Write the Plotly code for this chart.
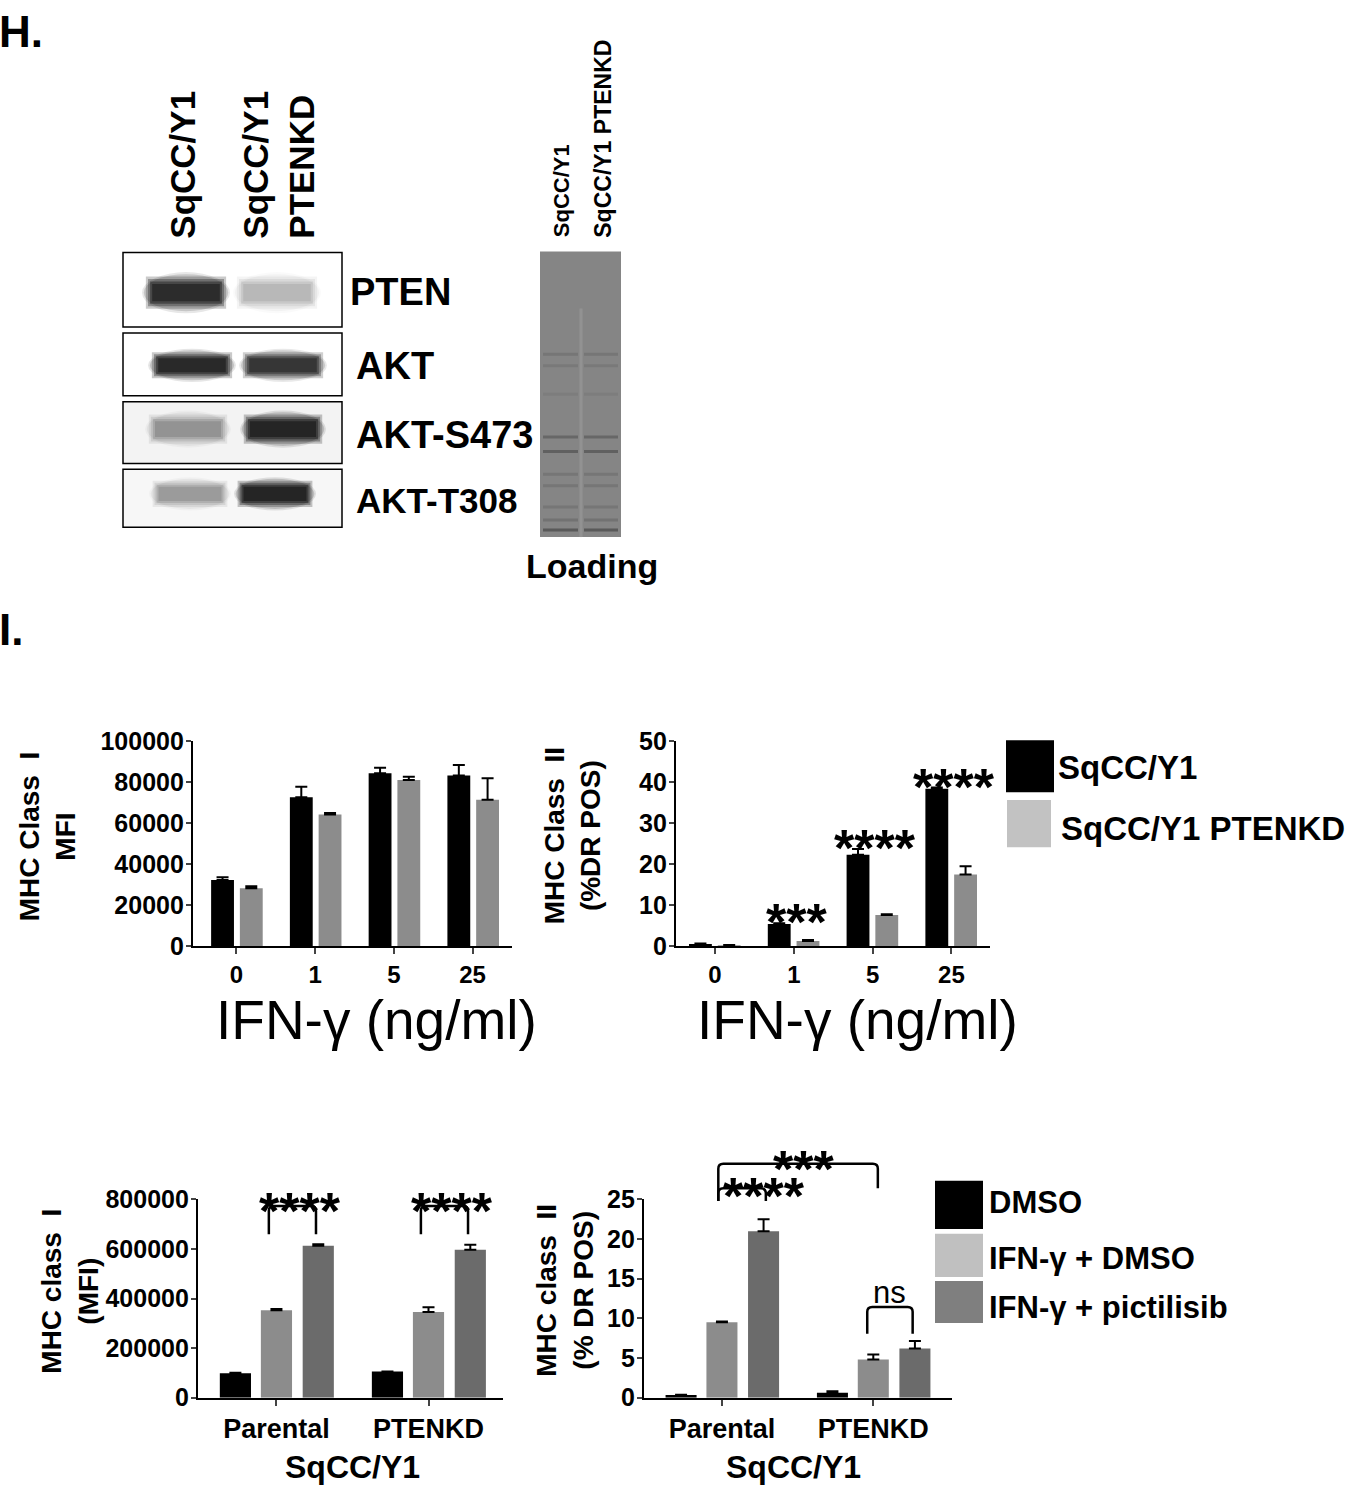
import plotly.graph_objects as go

W, H = 1348, 1500
FONT = "Liberation Sans, Arial, sans-serif"

# ---- data ----
conc_labels = ["0", "1", "5", "25"]
mhc1_sq = [32300, 72700, 84300, 83300]
mhc1_sq_err = [1300, 5100, 2700, 5100]
mhc1_kd = [28300, 64300, 81100, 71400]
mhc1_kd_err = [1000, 700, 1600, 10500]

mhc2_sq = [0.55, 5.4, 22.3, 38.4]
mhc2_sq_err = [0.1, 0.2, 1.4, 0.3]
mhc2_kd = [0.25, 1.3, 7.6, 17.5]
mhc2_kd_err = [0.05, 0.2, 0.2, 2.0]

cell_labels = ["Parental", "PTENKD"]
mhc1_dmso = [98900, 105400]
mhc1_dmso_err = [2000, 0]
mhc1_ifn = [353200, 345300]
mhc1_ifn_err = [5000, 19800]
mhc1_pict = [612900, 597000]
mhc1_pict_err = [6500, 19800]

mhc2_dmso = [0.33, 0.62]
mhc2_dmso_err = [0.03, 0.2]
mhc2_ifn = [9.5, 4.83]
mhc2_ifn_err = [0.1, 0.62]
mhc2_pict = [21.0, 6.2]
mhc2_pict_err = [1.5, 0.95]

# western blot band intensities (lane 1 = SqCC/Y1, lane 2 = PTENKD)
blot_rows = ["PTEN", "AKT", "AKT-S473", "AKT-T308"]
pten_bands = [0.95, 0.2]
akt_bands = [0.97, 0.85]
s473_bands = [0.3, 1.0]
t308_bands = [0.28, 1.0]
loading_band_pos = [0.36, 0.40, 0.50, 0.65, 0.70, 0.78, 0.82, 0.895, 0.94, 0.975]
loading_band_str = [0.2, 0.15, 0.1, 0.4, 0.5, 0.2, 0.2, 0.2, 0.25, 0.6]


def fx(p):
    return p / W


def fy(p):
    return 1 - p / H


fig = go.Figure()

BLACK, GREY, DARK = "#000000", "#8c8c8c", "#6b6b6b"


def err(a):
    return dict(type="data", array=a, arrayminus=[0] * len(a), symmetric=False,
                color="black", thickness=2, width=6)


def add_bar(ax, vals, errs, color, off, width):
    xs = list(range(len(vals)))
    fig.add_trace(go.Bar(x=xs, y=vals, error_y=err(errs), marker=dict(color=color, line=dict(width=0)),
                         width=width, offset=off, xaxis="x" + ax, yaxis="y" + ax, showlegend=False))


# chart 1 & 2 : two bars per group
add_bar("", mhc1_sq, mhc1_sq_err, BLACK, -0.32, 0.29)
add_bar("", mhc1_kd, mhc1_kd_err, GREY, 0.045, 0.29)
add_bar("2", mhc2_sq, mhc2_sq_err, BLACK, -0.33, 0.29)
add_bar("2", mhc2_kd, mhc2_kd_err, GREY, 0.035, 0.29)
# chart 3 & 4 : three bars per group
bw = 0.205
for ax in ["3", "4"]:
    sets = [(mhc1_dmso, mhc1_dmso_err), (mhc1_ifn, mhc1_ifn_err), (mhc1_pict, mhc1_pict_err)] if ax == "3" else \
        [(mhc2_dmso, mhc2_dmso_err), (mhc2_ifn, mhc2_ifn_err), (mhc2_pict, mhc2_pict_err)]
    for (v, e), c, ctr in zip(sets, [BLACK, GREY, DARK], [-0.27, 0.0, 0.275]):
        add_bar(ax, v, e, c, ctr - bw / 2, bw)


def xax(px0, px1, rng, labels, anchor, size=24):
    return dict(domain=[fx(px0), fx(px1)], range=rng, anchor=anchor, tickmode="array",
                tickvals=list(range(len(labels))), ticktext=labels, ticks="outside", ticklen=6,
                tickwidth=2, showline=True, linewidth=2.2, linecolor="black", showgrid=False,
                zeroline=False, tickfont=dict(family=FONT, size=size, color="black", weight="bold"),
                fixedrange=True)


def yax(py0, py1, rng, dtick, anchor, size=25):
    return dict(domain=[fy(py1), fy(py0)], range=rng, anchor=anchor, dtick=dtick, tickformat="d",
                ticks="outside", ticklen=5, tickwidth=2, showline=True, linewidth=2.2,
                linecolor="black", showgrid=False, zeroline=False, ticklabelstandoff=-3,
                tickfont=dict(family=FONT, size=size, color="black", weight="bold"), fixedrange=True)


fig.update_layout(
    width=W, height=H, margin=dict(l=0, r=0, t=0, b=0),
    paper_bgcolor="white", plot_bgcolor="white", barmode="overlay", showlegend=False,
    xaxis=xax(193, 512, [-0.55, 3.5], conc_labels, "y"),
    yaxis=yax(741, 950, [0, 100000], 20000, "x"),
    xaxis2=xax(676, 990, [-0.495, 3.49], conc_labels, "y2"),
    yaxis2=yax(741, 950, [0, 50], 10, "x2"),
    xaxis3=xax(198, 503, [-0.516, 1.49], cell_labels, "y3", size=27),
    yaxis3=yax(1208, 1410, [0, 800000], 200000, "x3"),
    xaxis4=xax(644, 952, [-0.515, 1.52], cell_labels, "y4", size=27),
    yaxis4=yax(1208, 1410, [0, 25], 5, "x4"),
)

ann = []
shapes = []


def text(t, x, y, size, bold=True, xanchor="center", yanchor="middle", angle=0, align="center"):
    ann.append(dict(text=t, x=fx(x), y=fy(y), xref="paper", yref="paper", showarrow=False,
                    xanchor=xanchor, yanchor=yanchor, textangle=angle, align=align, borderpad=0,
                    font=dict(family=FONT, size=size, color="black", weight="bold" if bold else "normal")))


# ---- panel letters ----
text("H.", -2, 18, 44, xanchor="left")
text("I.", -2, 627, 44, xanchor="left")

# ---- western blot ----
text("SqCC/Y1", 183, 230, 35, yanchor="bottom", angle=-90)
text("SqCC/Y1<br>PTENKD", 279, 230, 35, yanchor="bottom", angle=-90, align="left")
boxes = [(243, 319), (325, 389), (395, 458), (464, 523)]
box_bg = ["white", "white", "#f3f3f3", "#f7f7f7"]
lane_x = [[186, 277], [192, 283], [188, 283], [190, 275]]
band_y = [284, 358, 423, 489]
band_wh = [(88, 42), (88, 34), (86, 38), (82, 34)]
label_x = [349, 355, 355, 355]
label_size = [38, 38, 38, 35]
for i, (row, inten) in enumerate(zip(blot_rows, [pten_bands, akt_bands, s473_bands, t308_bands])):
    y0, y1 = boxes[i]
    shapes.append(dict(type="rect", xref="paper", yref="paper", x0=fx(123), x1=fx(342), y0=fy(y1), y1=fy(y0),
                       fillcolor=box_bg[i], line=dict(color="black", width=1.5), layer="below"))
    w, h = band_wh[i]
    for lane, val in enumerate(inten):
        cx, cy = lane_x[i][lane], band_y[i]
        layers = [("circle", 1.0, 0.1), ("circle", 0.9, 0.15), ("rect", 0.78, 0.22),
                  ("rect", 0.66, 0.3), ("rect", 0.54, 0.38), ("rect", 0.42, 0.4)]
        for kind, s, op in layers:
            sw = 1 - (1 - s) * 0.4
            shapes.append(dict(type=kind, xref="paper", yref="paper",
                               x0=fx(cx - w * sw / 2), x1=fx(cx + w * sw / 2),
                               y0=fy(cy + h * s / 2), y1=fy(cy - h * s / 2),
                               fillcolor="black", opacity=op * val, line=dict(width=0)))
    text(row, label_x[i], (y0 + y1) / 2 + 2, label_size[i], xanchor="left")

# loading lane
shapes.append(dict(type="rect", xref="paper", yref="paper", x0=fx(540), x1=fx(621), y0=fy(533), y1=fy(242),
                   fillcolor="#858585", line=dict(width=0)))
shapes.append(dict(type="line", xref="paper", yref="paper", x0=fx(581), x1=fx(581), y0=fy(533), y1=fy(300),
                   line=dict(color="#929292", width=3)))
for pos, s in zip(loading_band_pos, loading_band_str):
    yy = 242 + pos * (533 - 242)
    for xa, xb in [(543, 578), (584, 618)]:
        shapes.append(dict(type="line", xref="paper", yref="paper", x0=fx(xa), x1=fx(xb), y0=fy(yy), y1=fy(yy),
                           line=dict(color="#3c3c3c", width=3), opacity=s))
text("SqCC/Y1", 561, 229, 22, yanchor="bottom", angle=-90)
text("SqCC/Y1 PTENKD", 603, 229, 23, yanchor="bottom", angle=-90)
text("Loading", 592, 563, 34)

# ---- axis titles ----
text("MHC Class  I<br>MFI", 47, 838, 28, angle=-90)
text("MHC Class  II<br>(%DR POS)", 572, 838, 28, angle=-90)
text("MHC class  I<br>(MFI)", 70, 1302, 28, angle=-90)
text("MHC class  II<br>(% DR POS)", 565, 1301, 28, angle=-90)
text("IFN-γ (ng/ml)", 376, 1025, 55, bold=False)
text("IFN-γ (ng/ml)", 857, 1025, 55, bold=False)
text("SqCC/Y1", 352, 1481, 32)
text("SqCC/Y1", 793, 1481, 32)

# ---- legends ----
shapes.append(dict(type="rect", xref="paper", yref="paper", x0=fx(1006), x1=fx(1054), y0=fy(793), y1=fy(740),
                   fillcolor="black", line=dict(width=0)))
shapes.append(dict(type="rect", xref="paper", yref="paper", x0=fx(1007), x1=fx(1051), y0=fy(849), y1=fy(801),
                   fillcolor="#c2c2c2", line=dict(width=0)))
text("SqCC/Y1", 1057, 768, 33, xanchor="left")
text("SqCC/Y1 PTENKD", 1060, 830, 33, xanchor="left")

for (y0, y1), c in zip([(1189, 1238), (1243, 1287), (1291, 1334)], ["black", "#c0c0c0", "#7f7f7f"]):
    shapes.append(dict(type="rect", xref="paper", yref="paper", x0=fx(935), x1=fx(983), y0=fy(y1), y1=fy(y0),
                       fillcolor=c, line=dict(width=0)))
text("DMSO", 988, 1211, 31, xanchor="left")
text("IFN-γ + DMSO", 988, 1268, 31, xanchor="left")
text("IFN-γ + pictilisib", 988, 1318, 31, xanchor="left")


# ---- significance marks ----
def star(t, ax, x, yfrac, shift, size=52, bold=True):
    ann.append(dict(text=t, x=x, y=yfrac, xref="x" + ax, yref=f"y{ax} domain", showarrow=False, yshift=shift,
                    xanchor="center", yanchor="middle", borderpad=0,
                    font=dict(family=FONT, size=size, color="black", weight="bold" if bold else "normal")))


# chart 2 stars above black bars
for g, t in zip([1, 2, 3], ["***", "****", "****"]):
    star(t, "2", g + 0.03, (mhc2_sq[g] + mhc2_sq_err[g]) / 50, 1)


def bracket(ax, x0, x1, top, leg0, leg1, ymax, px_per_x, px_per_y):
    r = 5
    rx = r / px_per_x
    ry = r / px_per_y
    t, a, b = top / ymax, leg0 / ymax, leg1 / ymax
    path = (f"M {x0},{a} L {x0},{t - ry} Q {x0},{t} {x0 + rx},{t} L {x1 - rx},{t} "
            f"Q {x1},{t} {x1},{t - ry} L {x1},{b}")
    shapes.append(dict(type="path", path=path, xref="x" + ax, yref=f"y{ax} domain",
                       line=dict(color="black", width=2.5)))


# chart 3
for g in range(2):
    bracket("3", g - 0.05, g + 0.26, 774000, 660000, 660000, 800000, 152, 202)
    star("****", "3", g + 0.155, 774000 / 800000, -5)
# chart 4
bracket("4", -0.024, 1.03, 29.5, 24.8, 26.4, 25, 151.5, 202)
bracket("4", -0.024, 0.29, 26.4, 24.8, 24.8, 25, 151.5, 202)
bracket("4", 0.96, 1.26, 11.45, 8.06, 8.06, 25, 151.5, 202)
star("***", "4", 0.54, 29.5 / 25, -5)
star("****", "4", 0.28, 26.4 / 25, -8)
star("ns", "4", 1.11, 11.45 / 25, 14, size=31, bold=False)

fig.update_layout(annotations=ann, shapes=shapes)
fig.write_html("out.html", config={"displayModeBar": False},
               post_script="document.body.style.margin='0px';")
